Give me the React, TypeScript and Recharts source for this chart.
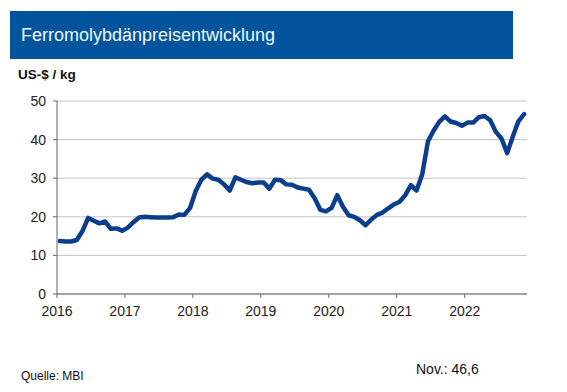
import React from "react";
import { LineChart, Line, XAxis, YAxis, CartesianGrid } from "recharts";

// monthly prices, Jan 2016 .. Nov 2022 (US-$ / kg)
const prices2016 = [13.7, 13.6, 13.6, 14.0, 16.3, 19.7, 19.0, 18.3, 18.8, 16.9, 17.0, 16.4];
const prices2017 = [17.2, 18.6, 19.8, 20.0, 19.9, 19.8, 19.8, 19.8, 19.9, 20.6, 20.5, 22.3];
const prices2018 = [26.7, 29.6, 31.0, 29.9, 29.6, 28.4, 26.8, 30.2, 29.6, 29.0, 28.7, 28.9];
const prices2019 = [28.9, 27.3, 29.6, 29.5, 28.4, 28.3, 27.6, 27.3, 27.0, 24.8, 21.8, 21.4];
const prices2020 = [22.3, 25.6, 22.6, 20.4, 20.0, 19.1, 17.8, 19.3, 20.5, 21.1, 22.2, 23.2];
const prices2021 = [23.9, 25.6, 28.2, 26.8, 31.0, 39.5, 42.3, 44.6, 46.0, 44.7, 44.3, 43.6];
const prices2022 = [44.4, 44.4, 45.8, 46.1, 45.0, 42.0, 40.3, 36.5, 40.8, 44.8, 46.6];

const yearLabels = ["2016", "2017", "2018", "2019", "2020", "2021", "2022"];
const yTicks = [0, 10, 20, 30, 40, 50];

const allPrices = [
  ...prices2016,
  ...prices2017,
  ...prices2018,
  ...prices2019,
  ...prices2020,
  ...prices2021,
  ...prices2022,
];

// points sit in the middle of each month
const data = allPrices.map((v, i) => ({ m: i + 0.5, price: v }));
const xTicks = yearLabels.map((_, i) => i * 12);

const font = "'Liberation Sans', Arial, sans-serif";

export default function App() {
  return (
    <div
      style={{
        position: "absolute",
        left: 0,
        top: 0,
        width: 567,
        height: 392,
        background: "#fff",
        fontFamily: font,
      }}
    >
      <div
        style={{
          position: "absolute",
          left: 10,
          top: 11,
          width: 503,
          height: 48,
          background: "#04549d",
        }}
      >
        <span
          style={{
            position: "absolute",
            left: 11,
            top: 14,
            fontSize: 18,
            color: "#eef8fb",
          }}
        >
          Ferromolybdänpreisentwicklung
        </span>
      </div>
      <div
        style={{
          position: "absolute",
          left: 18,
          top: 67,
          fontSize: 13.5,
          fontWeight: "bold",
          color: "#111",
        }}
      >
        US-$ / kg
      </div>

      <div style={{ position: "absolute", left: 0, top: 0 }}>
        <LineChart
          width={567}
          height={392}
          data={data}
          margin={{ top: 101, right: 40, left: 0, bottom: 73 }}
        >
          <CartesianGrid vertical={false} stroke="#c4c4c4" strokeWidth={1} />
          <XAxis
            dataKey="m"
            type="number"
            domain={[0, 83]}
            ticks={xTicks}
            tickFormatter={(v: number) => yearLabels[v / 12]}
            height={25}
            tick={{ fill: "#222", fontSize: 14, fontFamily: font }}
            tickSize={4}
            tickMargin={8}
            stroke="#666"
            allowDataOverflow
          />
          <YAxis
            type="number"
            domain={[0, 50]}
            ticks={yTicks}
            width={57}
            tick={{ fill: "#222", fontSize: 14, fontFamily: font }}
            tickSize={4}
            tickMargin={7}
            stroke="#666"
          />
          <Line
            type="linear"
            dataKey="price"
            stroke="#0b3d8f"
            strokeWidth={4.5}
            strokeLinejoin="round"
            strokeLinecap="round"
            dot={false}
            isAnimationActive={false}
          />
        </LineChart>
      </div>

      <div
        style={{
          position: "absolute",
          left: 21,
          top: 369,
          fontSize: 12,
          color: "#111",
        }}
      >
        Quelle: MBI
      </div>
      <div
        style={{
          position: "absolute",
          left: 416,
          top: 361,
          fontSize: 14,
          color: "#111",
        }}
      >
        Nov.: 46,6
      </div>
    </div>
  );
}
